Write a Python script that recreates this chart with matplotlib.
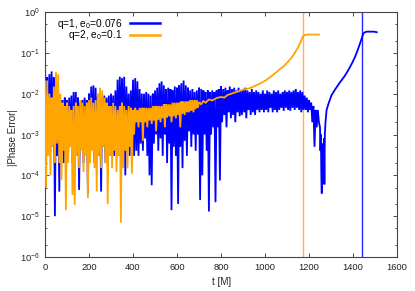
import numpy as np
import matplotlib
matplotlib.use("Agg")
import matplotlib.pyplot as plt
from matplotlib.ticker import LogLocator, NullFormatter, FixedLocator

# ---------------- data ----------------
# q=1, e0=0.076 : noisy part sampled every 5 M from t=0 to t=1195
blue_step = 5
blue_noisy = [
    5e-2, 3e-3, 2.5e-2, 8e-4, 3e-2, 2e-3, 3.5e-2, 5e-4, 2.5e-2, 1e-5,
    1.2e-2, 3e-4, 8e-3, 4e-5, 7e-3, 5e-4, 7e-3, 2e-4, 8e-3, 1e-3,
    7e-3, 3e-4, 8e-3, 6e-4, 9e-3, 2e-4, 1.1e-2, 8e-4, 1.1e-2, 3e-4,
    8e-3, 4.4e-5, 6e-3, 5e-4, 7e-3, 2e-4, 8e-3, 6e-4, 7e-3, 3.5e-5,
    1e-2, 3e-4, 1.5e-2, 8e-4, 1.6e-2, 2e-4, 1.4e-2, 6e-4, 9e-3, 3e-4,
    9e-3, 4e-5, 8e-3, 5e-4, 9e-3, 2e-4, 8e-3, 7e-4, 9e-3, 3e-4,
    1e-2, 8e-4, 9e-3, 3e-4, 1.2e-2, 6e-4, 2.2e-2, 3e-4, 2.6e-2, 8e-4,
    2.4e-2, 4e-4, 2.6e-2, 1e-4, 1.5e-2, 6e-4, 1e-2, 3e-4, 1.2e-2, 5e-4,
    2.2e-2, 3e-4, 2.4e-2, 4e-4, 2e-2, 3e-4, 1.3e-2, 6e-4, 1e-2, 4e-4,
    1e-2, 8e-4, 1.1e-2, 3e-4, 1e-2, 1e-4, 9e-3, 5.7e-5, 1e-2, 6e-4,
    1.2e-2, 1e-3, 1.4e-2, 4e-4, 1.8e-2, 8e-4, 2e-2, 3e-4, 1.6e-2, 1e-3,
    1.3e-2, 2e-4, 1.4e-2, 6e-4, 1.3e-2, 1.4e-5, 1.2e-2, 5e-4, 1.5e-2, 3e-4,
    1.4e-2, 2e-5, 1.6e-2, 5e-4, 1.8e-2, 1.5e-4, 2.1e-2, 7e-4, 1.6e-2, 3e-4,
    1.4e-2, 1.2e-3, 1.2e-2, 5e-4, 1.3e-2, 1e-3, 1.1e-2, 4e-4, 1.2e-2, 1e-3,
    1.4e-2, 2.5e-5, 1.3e-2, 1e-4, 1.2e-2, 1e-3, 1.1e-2, 4e-4, 1.2e-2, 1.3e-5,
    1.1e-2, 1e-3, 1.2e-2, 1.5e-3, 1.1e-2, 2.2e-5, 1.2e-2, 1.5e-3, 1.3e-2, 7.5e-5,
    1.5e-2, 2e-3, 1.3e-2, 3e-3, 1.4e-2, 1.5e-3, 1.2e-2, 3.5e-3, 1.5e-2, 2.5e-3,
    1.3e-2, 3e-3, 1.4e-2, 2e-3, 1.2e-2, 3.5e-3, 1.4e-2, 2.8e-3, 1.2e-2, 3e-3,
    1.3e-2, 3.5e-3, 1.4e-2, 2.5e-3, 1.2e-2, 4e-3, 1.1e-2, 3e-3, 1.3e-2, 3.5e-3,
    1.1e-2, 3e-3, 1.2e-2, 4e-3, 1.1e-2, 3.5e-3, 1e-2, 4e-3, 1.2e-2, 3.5e-3,
    1e-2, 4e-3, 1.2e-2, 3.5e-3, 1.1e-2, 4.5e-3, 1e-2, 3.5e-3, 1.2e-2, 4e-3,
    1.1e-2, 3.5e-3, 1.2e-2, 4e-3, 1e-2, 4.5e-3, 1.1e-2, 3.8e-3, 1.2e-2, 4.5e-3,
    1.1e-2, 4e-3, 1.2e-2, 3.8e-3, 1.1e-2, 4.5e-3, 1.2e-2, 4e-3, 1.3e-2, 4.5e-3,
    1.1e-2, 4e-3, 1.2e-2, 3.5e-3, 1.1e-2, 4e-3, 9e-3, 4e-3, 8e-3, 3.5e-3,
]
# q=1 tail: dip and rise to plateau
blue_tail_t = [1200, 1205, 1210, 1215, 1220, 1225, 1230, 1235, 1240, 1245,
               1250, 1252, 1254, 1256, 1258, 1260, 1262, 1264, 1266, 1268,
               1270, 1272, 1275, 1280, 1290, 1303, 1320, 1341, 1360, 1379,
               1395, 1409, 1422, 1432, 1440, 1447, 1455, 1462, 1480, 1495, 1508]
blue_tail_v = [7e-3, 4e-3, 6e-3, 2e-3, 5e-3, 5e-4, 4e-3, 1.5e-3, 4e-3, 2e-3,
               1.5e-3, 4e-4, 1e-3, 1e-4, 3.6e-5, 5e-4, 1e-4, 6e-4, 2e-4, 8e-4,
               6e-5, 1e-3, 2e-3, 4e-3, 6e-3, 9.3e-3, 1.3e-2, 1.9e-2, 2.6e-2, 3.8e-2,
               5.5e-2, 7.9e-2, 1.2e-1, 1.7e-1, 2.3e-1, 3e-1, 3.2e-1, 3.3e-1, 3.3e-1, 3.3e-1, 3.2e-1]

# q=2, e0=0.1 : noisy part sampled every 5 M from t=0 to t=695
orange_step = 5
orange_noisy = [
    2e-2, 5e-5, 2.1e-2, 3e-4, 1e-2, 1e-4, 8e-3, 5e-4, 1.5e-2, 2e-4,
    3.4e-2, 6e-4, 3e-2, 2e-4, 1e-2, 7.6e-5, 6e-3, 4e-4, 5e-3, 1.4e-5,
    6e-3, 2e-4, 5e-3, 5e-4, 4e-3, 3.3e-5, 5e-3, 1.9e-5, 6e-3, 3e-4,
    5e-3, 1.5e-4, 7e-3, 4e-4, 6e-3, 1.2e-4, 5e-3, 3e-4, 6e-3, 2.8e-5,
    7e-3, 2e-4, 8e-3, 4e-4, 6e-3, 1.5e-4, 7e-3, 4e-5, 1e-2, 3e-4,
    1.4e-2, 1.5e-4, 1.2e-2, 5e-4, 8e-3, 2e-4, 6e-3, 2e-5, 5e-3, 3e-4,
    5e-3, 1.5e-4, 6e-3, 4e-4, 5e-3, 1.2e-4, 4e-3, 3e-4, 5e-3, 7e-6,
    6e-3, 1.5e-4, 5e-3, 4e-4, 4e-3, 1.5e-4, 5e-3, 5e-4, 4.5e-3, 1.1e-4,
    4e-3, 1e-3, 4.5e-3, 2e-3, 4e-3, 1.5e-3, 4.5e-3, 2e-3, 4.5e-3, 7e-4,
    4.5e-3, 2e-3, 4.5e-3, 1.5e-3, 4.5e-3, 2.2e-3, 4.5e-3, 1.8e-3, 5e-3, 2.2e-3,
    5e-3, 1.2e-3, 5e-3, 2.3e-3, 5e-3, 2e-3, 5e-3, 2.5e-3, 5.5e-3, 1.5e-3,
    5.5e-3, 2.6e-3, 5.5e-3, 2.8e-3, 5.5e-3, 2e-3, 6e-3, 2.8e-3, 6e-3, 2.5e-3,
    6e-3, 3e-3, 6e-3, 1.5e-3, 6.5e-3, 3.2e-3, 6.5e-3, 3e-3, 6.5e-3, 3.5e-3,
    6.5e-3, 3.5e-3, 7e-3, 3.8e-3, 7e-3, 3.5e-3, 7e-3, 4.2e-3, 7e-3, 4.5e-3,
]
orange_tail_t = [700, 710, 720, 730, 745, 760, 780, 800, 815, 830, 856, 880, 900,
                 932, 960, 985, 1008, 1030, 1050, 1068, 1083, 1100, 1115, 1129,
                 1140, 1150, 1159, 1167, 1174, 1182, 1190, 1215, 1245]
orange_tail_v = [6.2e-3, 5.5e-3, 6.6e-3, 6e-3, 7.2e-3, 6.8e-3, 7.8e-3, 8.3e-3, 8e-3,
                 9.3e-3, 1.04e-2, 1.15e-2, 1.25e-2, 1.37e-2, 1.6e-2, 1.85e-2, 2.2e-2,
                 2.7e-2, 3.3e-2, 4e-2, 4.6e-2, 5.7e-2, 7e-2, 8.8e-2, 1.1e-1, 1.35e-1,
                 1.7e-1, 2.2e-1, 2.6e-1, 2.75e-1, 2.8e-1, 2.8e-1, 2.8e-1]

# merger times (vertical lines)
blue_merger = 1439
orange_merger = 1173

labels = ["q=1, e$_0$=0.076", "q=2, e$_0$=0.1"]
xlabel = "t [M]"
ylabel = "|Phase Error|"
xticks = [0, 200, 400, 600, 800, 1000, 1200, 1400, 1600]

BLUE = "#0000ff"
ORANGE = "#ffa500"

# ---------------- assemble series ----------------
bt = np.concatenate([np.arange(len(blue_noisy)) * blue_step, blue_tail_t])
bv = np.concatenate([blue_noisy, blue_tail_v])
ot = np.concatenate([np.arange(len(orange_noisy)) * orange_step, orange_tail_t])
ov = np.concatenate([orange_noisy, orange_tail_v])

# ---------------- figure ----------------
plt.rcParams["font.family"] = ["Liberation Sans", "DejaVu Sans"]
plt.rcParams["mathtext.fontset"] = "custom"
plt.rcParams["mathtext.rm"] = "Liberation Sans"
plt.rcParams["mathtext.it"] = "Liberation Sans:italic"
fs_tick = 6.7
fs_leg = 7.3
fs_lab = 7.0

fig = plt.figure(figsize=(4.15, 2.91), dpi=100)
ax = fig.add_axes([45 / 415, 1 - 257 / 291, 352 / 415, 245 / 291])

ax.plot(bt, bv, color=BLUE, lw=1.3, label=labels[0], solid_joinstyle="miter", zorder=2)
ax.plot(ot, ov, color=ORANGE, lw=1.3, label=labels[1], solid_joinstyle="miter", zorder=3)
ax.axvline(orange_merger, color=ORANGE, lw=1.0, alpha=0.8, zorder=1)
ax.axvline(blue_merger, color=BLUE, lw=1.0, alpha=0.85, zorder=1)

ax.set_yscale("log")
ax.set_xlim(0, 1600)
ax.set_ylim(1e-6, 1)
ax.xaxis.set_major_locator(FixedLocator(xticks))
ax.yaxis.set_major_locator(LogLocator(base=10, numticks=10))
ax.yaxis.set_minor_locator(LogLocator(base=10, subs=(2.0, 5.0), numticks=10))
ax.yaxis.set_minor_formatter(NullFormatter())

ax.tick_params(which="both", direction="in", top=True, right=True,
               labelsize=fs_tick, colors="#333333", labelcolor="#222222", width=0.6)
ax.tick_params(which="major", length=3, pad=4)
ax.tick_params(which="minor", length=1.5)
for s in ax.spines.values():
    s.set_color("#444444")
    s.set_linewidth(0.8)

ax.set_xlabel(xlabel, fontsize=fs_lab, color="#222222")
ax.set_ylabel(ylabel, fontsize=fs_lab, color="#222222")
ax.xaxis.set_label_coords((222 - 45) / 352, (257 - 277) / 245)
ax.yaxis.set_label_coords((18 - 45) / 352, (257 - 138) / 245)

leg = ax.legend(loc="upper right", bbox_to_anchor=((160 - 45) / 352, (257 - 17) / 245),
                frameon=False, markerfirst=False, fontsize=fs_leg, handlelength=3.0,
                handletextpad=0.7, labelspacing=-0.25, borderpad=0, borderaxespad=0)
for line in leg.get_lines():
    line.set_linewidth(1.8)

fig.savefig("out.png", dpi=100)
